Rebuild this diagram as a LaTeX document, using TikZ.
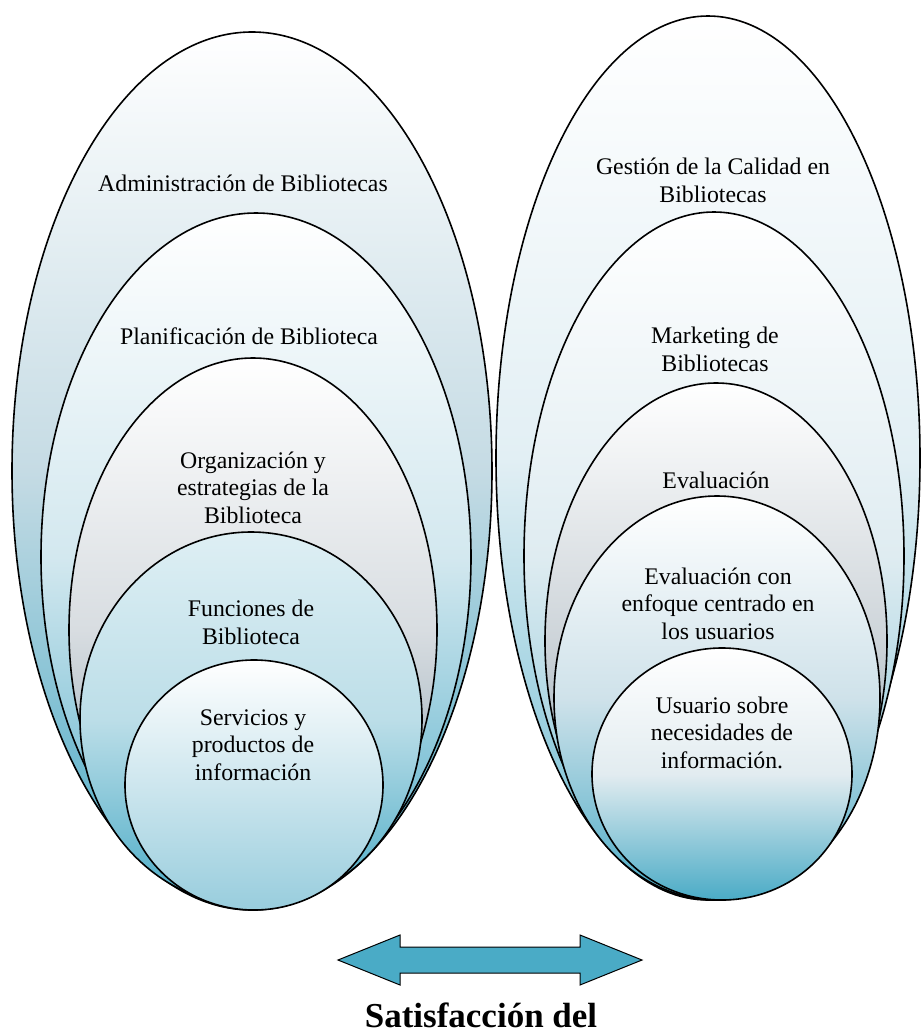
\documentclass[tikz,border=0pt]{standalone}
\usepackage{fontspec}
\setmainfont{Liberation Serif}
\definecolor{aqua}{HTML}{4AABC6}
\begin{document}
\begin{tikzpicture}[x=1pt,y=-1pt,
  ring/.style={draw=black,line width=1.6pt},
  lbl/.style={align=center,inner sep=0pt,anchor=base,font=\fontsize{23.8}{27.5}\selectfont},
  ttl/.style={inner sep=0pt,anchor=base,font=\fontsize{35}{40}\selectfont\bfseries}]
\useasboundingbox (0,0) rectangle (922,1034);
% left group
\draw[ring,top color=white,bottom color=aqua,middle color={rgb,255:red,197;green,219;blue,228}] (252,471) ellipse [x radius=240,y radius=439];
\draw[ring,top color=white,bottom color={rgb,255:red,85;green,175;blue,202},middle color={rgb,255:red,211;green,232;blue,239}] (256,557) ellipse [x radius=215,y radius=344];
\draw[ring,top color=white,bottom color={rgb,255:red,127;green,152;blue,168},middle color={rgb,255:red,216;green,221;blue,225}] (253,630) ellipse [x radius=184,y radius=272];
\draw[ring,top color={rgb,255:red,222;green,239;blue,244},bottom color=aqua,middle color={rgb,255:red,188;green,222;blue,232}] (251,719) ellipse [x radius=171,y radius=187];
\draw[ring,top color=white,bottom color={rgb,255:red,152;green,205;blue,221},middle color={rgb,255:red,205;green,230;blue,238}] (254,785) ellipse [x radius=129,y radius=125];
% right group
\draw[ring,top color=white,bottom color={rgb,255:red,110;green,188;blue,210},middle color={rgb,255:red,226;green,239;blue,244}] (708,458) ellipse [x radius=212,y radius=442];
\draw[ring,top color=white,bottom color={rgb,255:red,117;green,191;blue,212},middle color={rgb,255:red,223;green,236;blue,241}] (714,556) ellipse [x radius=190,y radius=344];
\draw[ring,top color=white,bottom color={rgb,255:red,127;green,154;blue,169},middle color={rgb,255:red,205;green,212;blue,217}] (716,641) ellipse [x radius=171,y radius=258];
\draw[ring,top color=white,bottom color=aqua,middle color={rgb,255:red,207;green,226;blue,234}] (717,698) ellipse [x radius=163,y radius=202];
\draw[ring,top color=white,bottom color=aqua,middle color={rgb,255:red,226;green,236;blue,240}] (722,774) ellipse [x radius=130,y radius=126];
% labels (anchor base = baseline of last line)
\node[lbl] (a1) at (243,191) {Administración de Bibliotecas};
\node[lbl] (a2) at (249,344) {Planificación de Biblioteca};
\node[lbl] (a3) at (253,523) {Organización y\\estrategias de la\\Biblioteca};
\node[lbl] (a4) at (251,644) {Funciones de\\Biblioteca};
\node[lbl] (a5) at (253,780) {Servicios y\\productos de\\información};
\node[lbl] (b1) at (713,202) {Gestión de la Calidad en\\Bibliotecas};
\node[lbl] (b2) at (715,371) {Marketing de\\Bibliotecas};
\node[lbl] (b3) at (716,488) {Evaluación};
\node[lbl] (b4) at (718,639) {Evaluación con\\enfoque centrado en\\los usuarios};
\node[lbl] (b5) at (722,768) {Usuario sobre\\necesidades de\\información.};
% double arrow
\draw[fill=aqua,draw=black,line width=1pt,line join=miter]
  (338,960) -- (400,935) -- (400,947) -- (580,947) -- (580,935) -- (642,960)
  -- (580,985) -- (580,973) -- (400,973) -- (400,985) -- cycle;
\node[ttl] (sat) at (481,1027) {Satisfacción del};
\end{tikzpicture}
\end{document}
